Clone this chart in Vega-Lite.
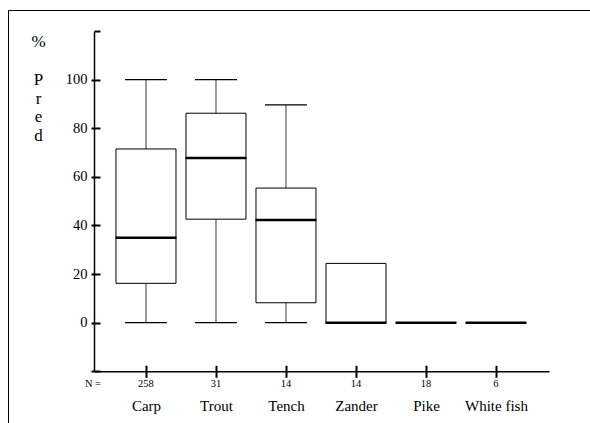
{
  "$schema": "https://vega.github.io/schema/vega-lite/v6.json",
  "width": 582,
  "height": 413,
  "autosize": {"type": "none"},
  "padding": {"left": 8, "top": 10, "right": 0, "bottom": 0},
  "background": "white",
  "data": {
    "values": [
      {"species": "Carp", "n": "258", "min": 0, "q1": 16.2, "median": 35.0, "q3": 71.5, "max": 100},
      {"species": "Trout", "n": "31", "min": 0, "q1": 42.6, "median": 67.8, "q3": 86.2, "max": 100},
      {"species": "Tench", "n": "14", "min": 0, "q1": 8.2, "median": 42.3, "q3": 55.4, "max": 89.6},
      {"species": "Zander", "n": "14", "min": 0, "q1": 0, "median": 0, "q3": 24.4, "max": 24.4},
      {"species": "Pike", "n": "18", "min": 0, "q1": 0, "median": 0, "q3": 0, "max": 0},
      {"species": "White fish", "n": "6", "min": 0, "q1": 0, "median": 0, "q3": 0, "max": 0}
    ]
  },
  "config": {
    "font": "Liberation Serif",
    "view": {"stroke": "#000", "strokeWidth": 1, "strokeDash": [582, 995, 413]},
    "axis": {
      "labelFont": "Liberation Serif",
      "titleFont": "Liberation Serif",
      "labelColor": "#000",
      "tickColor": "#000",
      "domainColor": "#000",
      "titleColor": "#000",
      "titleFontWeight": "normal",
      "grid": false
    }
  },
  "layer": [
    {
      "mark": {"type": "rule", "color": "#666", "strokeWidth": 1.3},
      "encoding": {
        "x": {
          "field": "species", "type": "nominal", "sort": null,
          "scale": {"type": "point", "domain": [" ", "Carp", "Trout", "Tench", "Zander", "Pike", "White fish", "  "], "padding": 0.657, "align": 0.739},
          "axis": {
            "orient": "bottom", "offset": -51.7, "title": null, "labelAngle": 0,
            "values": ["Carp", "Trout", "Tench", "Zander", "Pike", "White fish"],
            "labelFontSize": 15, "labelBaseline": "alphabetic", "labelPadding": 32.7,
            "ticks": true, "tickSize": 6, "tickWidth": 2,
            "domainWidth": 1.5, "domainDash": [0, 86, 455, 2000]
          }
        },
        "y": {
          "field": "min", "type": "quantitative",
          "scale": {"domain": [-41.28, 128.68], "nice": false, "zero": false},
          "axis": {
            "orient": "left", "offset": -86,
            "values": [-20, 0, 20, 40, 60, 80, 100],
            "labelExpr": "datum.value < 0 ? '' : datum.label",
            "tickSize": 3, "tickWidth": 2, "labelPadding": 4, "labelFontSize": 14.5,
            "domainWidth": 1.5, "domainDash": [0, 51.7, 340.2, 2000],
            "title": ["P", "r", "e", "d"],
            "titleAngle": 0, "titleAlign": "center", "titleBaseline": "alphabetic",
            "titleX": -56, "titleY": 74.5, "titleFontSize": 17, "titleLineHeight": 18.7
          }
        },
        "y2": {"field": "max"}
      }
    },
    {
      "mark": {"type": "bar", "fill": "white", "stroke": "#000", "strokeWidth": 1, "width": 60},
      "encoding": {
        "x": {
          "field": "species", "type": "nominal", "sort": null,
          "axis": {"orient": "top", "offset": -361.3, "values": ["Carp", "Trout", "Tench", "Zander", "Pike", "White fish"], "labels": false, "domain": false, "ticks": true, "tickSize": 6, "tickWidth": 2, "title": null}
        },
        "y": {
          "field": "q1", "type": "quantitative",
          "axis": {
            "orient": "right", "offset": -496, "values": [-20, 0, 20, 40, 60, 80, 100, 120],
            "labels": false, "domain": false, "tickSize": 6, "tickWidth": 2,
            "title": "%", "titleAngle": 0, "titleAlign": "center", "titleBaseline": "alphabetic",
            "titleX": -56, "titleY": 36.5, "titleFontSize": 17
          }
        },
        "y2": {"field": "q3"}
      }
    },
    {
      "mark": {"type": "tick", "color": "#000", "size": 61, "thickness": 2.5, "opacity": 1},
      "encoding": {
        "x": {"field": "species", "type": "nominal", "sort": null, "axis": null},
        "y": {"field": "median", "type": "quantitative", "axis": null}
      }
    },
    {
      "transform": [{"filter": "datum.max > datum.q3"}],
      "mark": {"type": "tick", "color": "#000", "size": 42, "thickness": 1.2, "opacity": 1},
      "encoding": {
        "x": {"field": "species", "type": "nominal", "sort": null, "axis": null},
        "y": {"field": "max", "type": "quantitative", "axis": null}
      }
    },
    {
      "transform": [{"filter": "datum.min < datum.q1"}],
      "mark": {"type": "tick", "color": "#000", "size": 42, "thickness": 1.2, "opacity": 1},
      "encoding": {
        "x": {"field": "species", "type": "nominal", "sort": null, "axis": null},
        "y": {"field": "min", "type": "quantitative", "axis": null}
      }
    },
    {
      "mark": {"type": "text", "fontSize": 10.5, "baseline": "alphabetic", "align": "center", "dy": 16, "color": "#000", "font": "Liberation Serif"},
      "encoding": {
        "x": {"field": "species", "type": "nominal", "sort": null, "axis": null},
        "y": {"datum": -20, "type": "quantitative", "axis": null},
        "text": {"field": "n"}
      }
    },
    {
      "data": {"values": [{"label": "N ="}]},
      "mark": {"type": "text", "fontSize": 10.5, "baseline": "alphabetic", "align": "center", "dx": -53, "dy": 16, "color": "#000", "font": "Liberation Serif"},
      "encoding": {
        "x": {"datum": "Carp", "type": "nominal", "axis": null},
        "y": {"datum": -20, "type": "quantitative", "axis": null},
        "text": {"field": "label"}
      }
    }
  ],
  "resolve": {"axis": {"x": "independent", "y": "independent"}}
}
